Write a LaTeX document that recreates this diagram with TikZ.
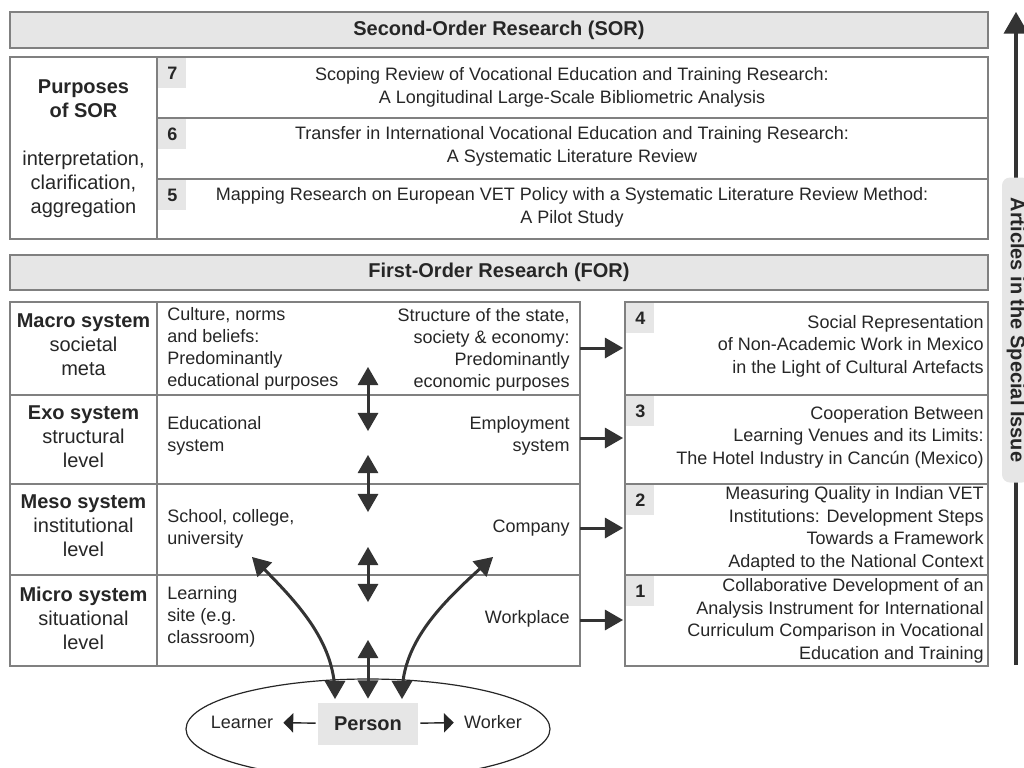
\documentclass[tikz,border=0pt]{standalone}
\usepackage{fontspec}
\setmainfont{Liberation Sans}
\usepackage{tikz}
\usetikzlibrary{arrows,calc,positioning}
\definecolor{boxgray}{HTML}{E6E6E6}
\definecolor{linegray}{HTML}{808080}
\definecolor{inkgray}{HTML}{262626}
\definecolor{arrowgray}{HTML}{333333}

\begin{document}
\begin{tikzpicture}[x=0.5pt,y=-0.5pt,
	frame/.style={draw=linegray,line width=0.6pt},
	headbar/.style={frame,fill=boxgray},
	tag/.style={fill=boxgray,minimum width=14pt,minimum height=15pt,inner sep=0pt,anchor=north west,font=\fontsize{9}{11}\selectfont\bfseries,text=inkgray},
	title/.style={font=\fontsize{10}{12}\selectfont\bfseries,text=inkgray},
	sortext/.style={font=\fontsize{9}{11.5}\selectfont,text=inkgray,align=center},
	lvl/.style={font=\fontsize{10}{12}\selectfont,text=inkgray,align=center},
	cell/.style={font=\fontsize{9}{11}\selectfont,text=inkgray,inner sep=0pt},
	art/.style={font=\fontsize{9}{11.3}\selectfont,text=inkgray,align=right,inner sep=0pt,anchor=east},
	fat/.style={draw=arrowgray,line width=1.5pt},
	thin/.style={draw=inkgray,line width=0.7pt,-triangle 90}
	]
	\useasboundingbox (0,0) rectangle (1024,767);
	\clip (0,0) rectangle (1024,767);

	\draw[headbar] (10,12) rectangle (988,48);
	\node[title] (sor) at (499,30) {Second-Order Research (SOR)};

	\draw[frame] (10,57) rectangle (988,239);
	\draw[frame] (157,57) -- (157,239);
	\draw[frame] (157,118) -- (988,118);
	\draw[frame] (157,179) -- (988,179);
	\node[tag] (t7) at (158,58) {7};
	\node[tag] (t6) at (158,119) {6};
	\node[tag] (t5) at (158,180) {5};
	\node[title,align=center] (purp) at (83.5,99) {Purposes\\of SOR};
	\node[lvl] (aims) at (83.5,184) {interpretation,\\clarification,\\aggregation};
	\node[sortext] (s7) at (572,87.5) {Scoping Review of Vocational Education and Training Research:\\A Longitudinal Large-Scale Bibliometric Analysis};
	\node[sortext] (s6) at (572,146.5) {Transfer in International Vocational Education and Training Research:\\A Systematic Literature Review};
	\node[sortext] (s5) at (572,207) {Mapping Research on European VET Policy with a Systematic Literature Review Method:\\A Pilot Study};

	\draw[headbar] (10,255) rectangle (988,290);
	\node[title] (for) at (499,272) {First-Order Research (FOR)};

	\draw[frame] (10,302) rectangle (580,666);
	\draw[frame] (157,302) -- (157,666);
	\foreach \y in {395,484,575}
		\draw[frame] (10,\y) -- (580,\y);

	\node[lvl] (macro) at (83.5,345) {\textbf{Macro system}\\societal\\meta};
	\node[lvl] (exo) at (83.5,437) {\textbf{Exo system}\\structural\\level};
	\node[lvl] (meso) at (83.5,526) {\textbf{Meso system}\\institutional\\level};
	\node[lvl] (micro) at (83.5,618) {\textbf{Micro system}\\situational\\level};

	\node[cell,anchor=west,align=left] (culture) at (167,349) {Culture, norms\\and beliefs:\\Predominantly\\educational purposes};
	\node[cell,anchor=east,align=right] (state) at (570,350) {Structure of the state,\\society \& economy:\\Predominantly\\economic purposes};
	\node[cell,anchor=west,align=left] (edusys) at (167,436) {Educational\\system};
	\node[cell,anchor=east,align=right] (empsys) at (570,436) {Employment\\system};
	\node[cell,anchor=west,align=left] (school) at (167,528.5) {School, college,\\university};
	\node[cell,anchor=east] (company) at (570,528) {Company};
	\node[cell,anchor=west,align=left] (site) at (167,617) {Learning\\site (e.g.\\classroom)};
	\node[cell,anchor=east] (workplace) at (570,619) {Workplace};

	\foreach \ya/\yb/\n in {302/395/4,395/484/3,484/575/2,575/666/1} {
		\draw[frame] (625,\ya) rectangle (988,\yb);
		\node[tag] (n\n) at (626,\ya+1) {\n};
	}
	\node[art] (a4) at (984,346) {Social Representation\\of Non-Academic Work in Mexico\\in the Light of Cultural Artefacts};
	\node[art] (a3) at (984,437) {Cooperation Between\\Learning Venues and its Limits:\\The Hotel Industry in Cancún (Mexico)};
	\node[art] (a2) at (984,529) {Measuring Quality in Indian VET\\Institutions: Development Steps\\Towards a Framework\\Adapted to the National Context};
	\node[art] (a1) at (984,621) {Collaborative Development of an\\Analysis Instrument for International\\Curriculum Comparison in Vocational\\Education and Training};

	\foreach \y/\n in {348/4,438/3,528/2,620/1} {
		\coordinate (l\n) at (580,\y);
		\coordinate (r\n) at (623,\y);
		\draw[fat,-triangle 60] (l\n) -- (r\n);
	}

	\draw[line width=0.6pt,draw=inkgray] (368,729) ellipse [x radius=182, y radius=50];
	\node[title,fill=boxgray,minimum width=50pt,minimum height=21pt] (person) at (368,724) {Person};
	\node[cell] (learner) at (242,722) {Learner};
	\node[cell] (worker) at (493,722) {Worker};
	\draw[thin,shorten <=1pt,shorten >=5pt] (person) -- (learner);
	\draw[thin,shorten <=1pt,shorten >=5pt] (person) -- (worker);

	\foreach \ya/\yb [count=\i] in {367/431,455/512,547/602} {
		\coordinate (u\i) at (368,\ya);
		\coordinate (d\i) at (368,\yb);
		\draw[fat,triangle 60-triangle 60] (u\i) -- (d\i);
	}
	\coordinate (u4) at (368,640);
	\draw[fat,triangle 60-triangle 60,shorten >=2pt] (u4) -- (person);

	\coordinate (lc) at (252,557);
	\coordinate (lp) at (335,699);
	\coordinate (rc) at (493,557);
	\coordinate (rp) at (402,699);
	\draw[fat,triangle 60-triangle 60] (lc) .. controls (295,600) and (335,640) .. (lp);
	\draw[fat,triangle 60-triangle 60] (rc) .. controls (445,600) and (402,640) .. (rp);

	\coordinate (sbot) at (1016,665);
	\coordinate (stop) at (1016,12);
	\draw[draw=arrowgray,line width=2pt,-triangle 60] (sbot) -- (stop);
	\node[title,fill=boxgray,rounded corners=4pt,rotate=-90,minimum width=152.5pt,minimum height=14pt,inner sep=0pt] (side) at (1016,330) {Articles in the Special Issue};
\end{tikzpicture}
\end{document}
